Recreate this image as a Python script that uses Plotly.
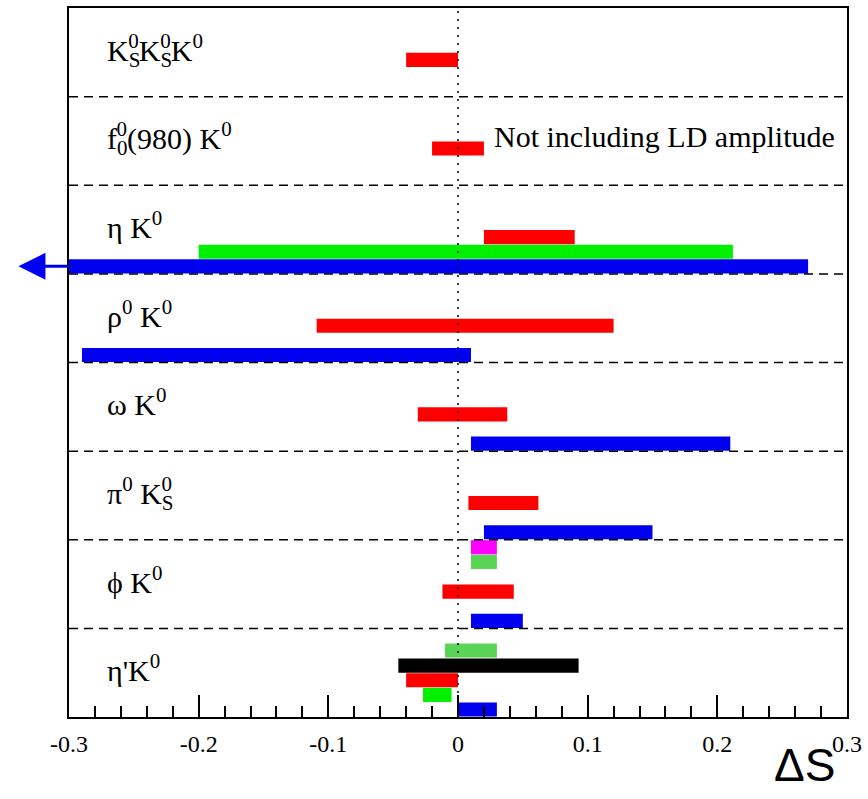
import numpy as np
import plotly.graph_objects as go

# stacked sub/superscript helper (sub then sup drawn over the same place)
def stack(sub, sup, back):
    return ("<sub><span style='letter-spacing:-%dpx'>%s</span></sub><sup>%s</sup>"
            % (back, sub, sup))

# Rows (bottom to top)
row_labels = [
    "η'K<sup>0</sup>",
    "ϕ K<sup>0</sup>",
    "π<sup>0</sup> K" + stack("S", "0", 12),
    "ω K<sup>0</sup>",
    "ρ<sup>0</sup> K<sup>0</sup>",
    "η K<sup>0</sup>",
    "f" + stack("0", "0", 11) + "(980) K<sup>0</sup>",
    "K" + stack("S", "0", 12) + "K" + stack("S", "0", 12) + "K<sup>0</sup>",
]

# ΔS ranges per series: row index, low, high
red_rows = [0, 1, 2, 3, 4, 5, 6, 7]
red_lo = [-0.040, -0.012, 0.008, -0.031, -0.109, 0.020, -0.020, -0.040]
red_hi = [0.000, 0.043, 0.062, 0.038, 0.120, 0.090, 0.020, 0.000]

blue_rows = [0, 1, 2, 3, 4, 5]
blue_lo = [0.000, 0.010, 0.020, 0.010, -0.290, -0.360]
blue_hi = [0.030, 0.050, 0.150, 0.210, 0.010, 0.270]

green_rows = [0, 5]
green_lo = [-0.027, -0.200]
green_hi = [-0.005, 0.212]

midgreen_rows = [0, 1]
midgreen_lo = [-0.010, 0.010]
midgreen_hi = [0.030, 0.030]

black_rows = [0]
black_lo = [-0.046]
black_hi = [0.093]

magenta_rows = [1]
magenta_lo = [0.010]
magenta_hi = [0.030]

x_tick_vals = [-0.3, -0.2, -0.1, 0, 0.1, 0.2, 0.3]
x_tick_text = ["-0.3", "-0.2", "-0.1", "0", "0.1", "0.2", "0.3"]

note_text = "Not including LD amplitude"
x_title = "ΔS"

# series styling: (rows, lo, hi, color, slot offset within row)
series = [
    (blue_rows, blue_lo, blue_hi, "#0000f0", 0.085),
    (green_rows, green_lo, green_hi, "#00f000", 0.25),
    (red_rows, red_lo, red_hi, "#ff0000", 0.415),
    (black_rows, black_lo, black_hi, "#000000", 0.58),
    (midgreen_rows, midgreen_lo, midgreen_hi, "#59d454", 0.75),
    (magenta_rows, magenta_lo, magenta_hi, "#ff00ff", 0.915),
]

fig = go.Figure()
for rows, lo, hi, color, off in series:
    lo = np.array(lo)
    hi = np.array(hi)
    fig.add_trace(go.Bar(
        orientation="h",
        y=np.array(rows) + off,
        x=hi - lo,
        base=lo,
        width=0.16,
        marker=dict(color=color, line=dict(width=0)),
        showlegend=False,
        hoverinfo="skip",
    ))

serif = "Liberation Serif, Times New Roman, serif"

# row separators
for k in range(1, len(row_labels)):
    fig.add_shape(type="line", xref="paper", x0=0, x1=1, yref="y", y0=k, y1=k,
                  line=dict(color="black", width=1.5, dash="9px,6px"), layer="above")

# zero dotted line
fig.add_shape(type="line", xref="x", x0=0, x1=0, yref="paper", y0=0, y1=1,
              line=dict(color="black", width=1.5, dash="2px,6px"), layer="above")

# row labels
for i, lab in enumerate(row_labels):
    fig.add_annotation(x=-0.272, y=i + 0.55, xref="x", yref="y", text=lab,
                       showarrow=False, xanchor="left", yanchor="middle",
                       font=dict(family=serif, size=30, color="black"))

# note
fig.add_annotation(x=0.026, y=6.55, xref="x", yref="y", text=note_text,
                   showarrow=False, xanchor="left", yanchor="middle",
                   font=dict(family=serif, size=30, color="black"))

# off-scale arrow for blue eta K0
fig.add_annotation(x=-0.339, y=5 + 0.085, xref="x", yref="y",
                   ax=-0.2999, ay=5 + 0.085, axref="x", ayref="y",
                   text="", showarrow=True, arrowhead=2, arrowsize=1.8,
                   arrowwidth=3, arrowcolor="#0000f0")

# axis title
fig.add_annotation(x=0.945, y=-0.068, xref="paper", yref="paper", text=x_title,
                   showarrow=False, xanchor="center", yanchor="middle",
                   font=dict(family="Liberation Sans, Arial, sans-serif", size=46, color="black"))

fig.update_layout(
    width=868, height=799,
    margin=dict(l=69, r=16, t=6, b=82),
    plot_bgcolor="white", paper_bgcolor="white",
    barmode="overlay",
    showlegend=False,
    xaxis=dict(
        range=[-0.3, 0.3],
        tickvals=x_tick_vals, ticktext=x_tick_text,
        ticks="inside", ticklen=22, tickwidth=1.5, tickcolor="black",
        minor=dict(dtick=0.02, tick0=0, ticks="inside", ticklen=11, tickwidth=1.5, tickcolor="black"),
        showline=True, linecolor="black", linewidth=2, mirror=True,
        showgrid=False, zeroline=False,
        tickfont=dict(family=serif, size=24, color="black"),
        ticklabelstandoff=4,
    ),
    yaxis=dict(
        range=[0, 8],
        showticklabels=False, ticks="",
        showline=True, linecolor="black", linewidth=2, mirror=True,
        showgrid=False, zeroline=False,
    ),
)

fig.write_html("out.html")
